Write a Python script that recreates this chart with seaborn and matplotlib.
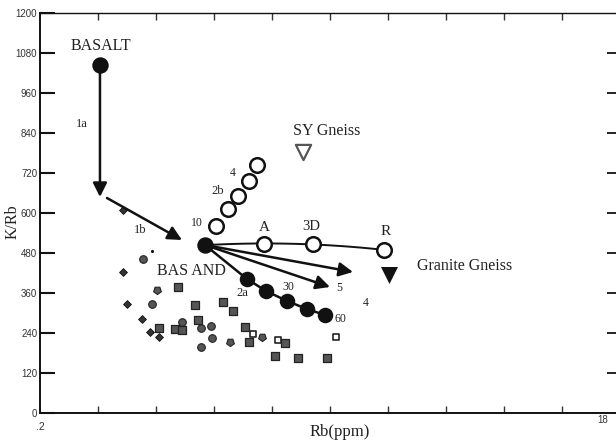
import numpy as np
import pandas as pd
import matplotlib
matplotlib.use("Agg")
import matplotlib.pyplot as plt
import seaborn as sns

# ---- data (x in tick units along the Rb axis, y = K/Rb) ----
basalt_x, basalt_y = [1.034], [1044]
basand_x, basand_y = [2.845], [504]

# trend 2b (open circles)
t2b_x = [3.034, 3.241, 3.414, 3.603, 3.741]
t2b_y = [561, 612, 651, 696, 744]

# trend 2a (filled circles)
t2a_x = [3.569, 3.897, 4.259, 4.603, 4.914]
t2a_y = [402, 366, 336, 312, 294]

# trend 3 (A, 3D, R)
t3_labels = ["A", "3D", "R"]
t3_x = [3.862, 4.707, 5.931]
t3_y = [507, 507, 489]

sy_gneiss = (4.534, 783)
granite_gneiss = (6.017, 414)

# arrow vectors (start, end)
arrow_1a = ((1.034, 1044), (1.034, 648))
arrow_1b = ((1.155, 645), (2.448, 519))
arrow_gg = ((2.845, 504), (5.397, 423))
arrow_5 = ((2.845, 504), (5.000, 378))

# sample population
dia_x = [1.431, 1.431, 1.500, 1.759, 1.897, 2.052]
dia_y = [609, 423, 327, 282, 243, 228]
cir_x = [1.776, 1.931, 2.448, 2.776, 2.948, 2.966, 2.776]
cir_y = [462, 327, 273, 255, 261, 225, 198]
dot_x, dot_y = [1.931], [486]
shd_x = [2.017, 3.276, 3.828]
shd_y = [369, 213, 228]
sqf_x = [2.379, 2.672, 3.155, 3.328, 2.724, 2.052, 2.328, 2.448, 3.534, 3.603,
         4.224, 4.052, 4.448, 4.948]
sqf_y = [378, 324, 333, 306, 279, 255, 252, 249, 258, 213, 210, 171, 165, 165]
sqo_x = [3.672, 4.103, 5.103]
sqo_y = [237, 219, 228]

yticks = [0, 120, 240, 360, 480, 600, 720, 840, 960, 1080, 1200]

# ---- figure ----
sns.set_style("white")
serif = ["Liberation Serif", "DejaVu Serif"]
plt.rcParams["font.family"] = ["Liberation Sans", "DejaVu Sans"]

W, H = 616, 441
fig = plt.figure(figsize=(W / 100, H / 100), dpi=100)
ax = fig.add_axes([40 / W, (H - 413) / H, (618 - 40) / W, 400 / H])
ax.set_xlim(0, 9.966)
ax.set_ylim(0, 1200)

ink = "#111111"

# sample population
sns.scatterplot(x=dia_x, y=dia_y, marker="D", s=16, color="#333", edgecolor="#111",
                linewidth=0.6, ax=ax, zorder=2)
sns.scatterplot(x=cir_x, y=cir_y, marker="o", s=30, color="#555", edgecolor="#222",
                linewidth=0.8, ax=ax, zorder=2)
sns.scatterplot(x=dot_x, y=dot_y, marker="o", s=5, color="#111", linewidth=0, ax=ax, zorder=2)
sns.scatterplot(x=shd_x, y=shd_y, marker=(5, 0, 180), s=34, color="#555", edgecolor="#222",
                linewidth=0.8, ax=ax, zorder=2)
sns.scatterplot(x=sqf_x, y=sqf_y, marker="s", s=26, color="#555", edgecolor="#222",
                linewidth=0.9, ax=ax, zorder=2)
sns.scatterplot(x=sqo_x, y=sqo_y, marker="s", s=24, facecolor="white", edgecolor="#222",
                linewidth=1.2, ax=ax, zorder=2)

# trend 2a line and points
line2a = pd.DataFrame({"x": basand_x + t2a_x, "y": basand_y + t2a_y})
sns.lineplot(data=line2a, x="x", y="y", sort=False, estimator=None, color=ink,
             linewidth=1.8, ax=ax, zorder=3)
sns.scatterplot(x=t2a_x, y=t2a_y, s=125, color=ink, linewidth=0, ax=ax, zorder=4)

# trend 3 curve fitted through BAS AND, A, 3D, R
cx = basand_x + t3_x
cy = basand_y + t3_y
coef = np.polyfit(cx, cy, 2)
xs = np.linspace(cx[0], cx[-1], 100)
ax.plot(xs, np.polyval(coef, xs), color=ink, linewidth=1.4, zorder=3)
sns.scatterplot(x=t3_x, y=t3_y, s=110, facecolor="white", edgecolor=ink,
                linewidth=1.8, ax=ax, zorder=5)

# trend 2b open circles
sns.scatterplot(x=t2b_x, y=t2b_y, s=110, facecolor="white", edgecolor=ink,
                linewidth=1.8, ax=ax, zorder=5)

# arrows
for (x0, y0), (x1, y1) in [arrow_1a, arrow_1b, arrow_gg, arrow_5]:
    ax.annotate("", xy=(x1, y1), xytext=(x0, y0),
                arrowprops=dict(arrowstyle="-|>,head_length=0.6,head_width=0.3",
                                color=ink, lw=1.8, shrinkA=0, shrinkB=0,
                                mutation_scale=14),
                zorder=3)

# end members
sns.scatterplot(x=basalt_x, y=basalt_y, s=140, color=ink, linewidth=0, ax=ax, zorder=6)
sns.scatterplot(x=basand_x, y=basand_y, s=140, color=ink, linewidth=0, ax=ax, zorder=6)
ax.scatter([sy_gneiss[0]], [sy_gneiss[1]], marker="v", s=120, facecolor="white",
           edgecolor="#555", linewidth=1.6, zorder=5)
ax.scatter([granite_gneiss[0]], [granite_gneiss[1]], marker="v", s=150, color=ink,
           linewidth=0, zorder=5)

# labels
def label(px, py, s, size=11.5, **kw):
    ax.text(px, py, s, transform=ax.transData, ha="center", va="center",
            family=serif, fontsize=size, color="#222", **kw)

def to_data(px, py):
    return (px - 40) / 58, (413 - py) * 3

for (px, py, s, size) in [
    (101, 46, "BASALT", 11.5),
    (82, 124, "1a", 9),
    (140, 230, "1b", 9),
    (191, 271, "BAS AND", 11.5),
    (197, 223, "10", 8.5),
    (218, 191, "2b", 9),
    (233, 173, "4", 8.5),
    (327, 131, "SY Gneiss", 11.5),
    (264, 228, t3_labels[0], 11),
    (311, 227, t3_labels[1], 10.5),
    (386, 232, t3_labels[2], 11),
    (465, 266, "Granite Gneiss", 11.5),
    (242, 293, "2a", 9),
    (288, 287, "30", 8.5),
    (340, 319, "60", 8.5),
    (339, 288, "5", 8.5),
    (366, 303, "4", 8.5),
]:
    dx, dy = to_data(px, py)
    label(dx, dy, s, size)

# axes styling
ax.set_yticks(yticks)
ax.set_yticklabels([str(v) for v in yticks])
ax.set_xticks(range(1, 10))
ax.set_xticklabels([])
ax.tick_params(axis="y", which="both", left=True, right=False, direction="in",
               length=11, width=1.5, colors=ink, labelsize=7, labelcolor="#333", pad=2)
ax.tick_params(axis="x", which="both", bottom=True, top=True, direction="in",
               length=5, width=1.0, colors="#333")
# shorter marks on the right-hand side
ax_r = ax.secondary_yaxis("right")
ax_r.set_yticks(yticks[1:-1])
ax_r.set_yticklabels([])
ax_r.tick_params(direction="in", length=8, width=1.3, colors=ink)
ax_r.spines["right"].set_visible(False)

for side in ["left", "bottom", "top"]:
    ax.spines[side].set_color(ink)
    ax.spines[side].set_linewidth(1.4)
ax.spines["top"].set_linewidth(1.0)
ax.spines["right"].set_visible(False)

fig.text(40 / W, 1 - 427 / H, ".2", ha="center", va="center", fontsize=7.5, color="#333")
fig.text(603 / W, 1 - 420 / H, "18", ha="center", va="center", fontsize=7, color="#333")
fig.text(340 / W, 1 - 432 / H, "Rb(ppm)", ha="center", va="center",
         family=serif, fontsize=12, color="#222")
fig.text(13 / W, 1 - 222 / H, "K/Rb", ha="center", va="center", rotation=90,
         family=serif, fontsize=11.5, color="#222")

ax.set_xlabel("")
ax.set_ylabel("")
fig.savefig("out.png", dpi=100)
